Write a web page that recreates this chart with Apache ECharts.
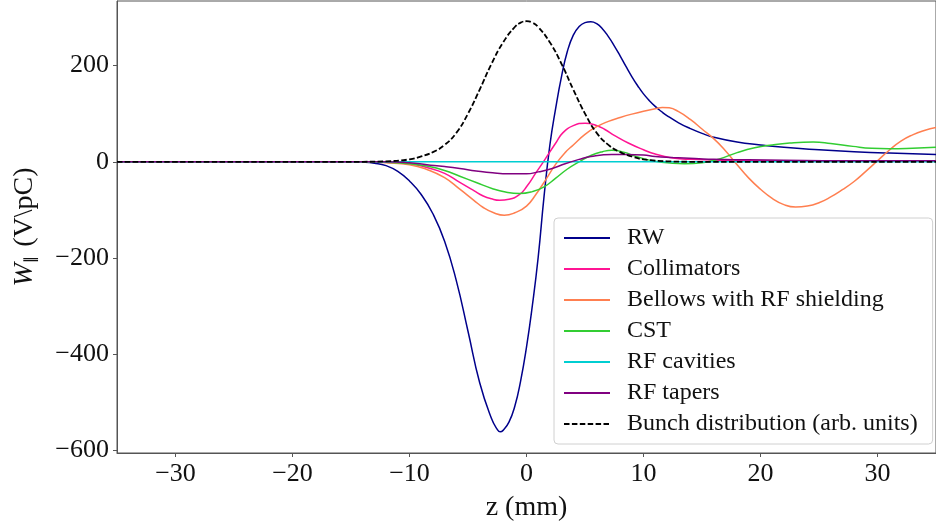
<!DOCTYPE html>
<html>
<head>
<meta charset="utf-8">
<script src="https://cdn.jsdelivr.net/npm/echarts@6/dist/echarts.min.js"></script>
<style>
  html, body { margin: 0; padding: 0; background: #fff; }
  #chart { width: 936px; height: 527px; }
</style>
</head>
<body>
<div id="chart"></div>
<script>
// wake contributions (z in mm, W in V/pC)
const zRW = [-35, -16, -14, -13, -12, -11, -10, -9, -8, -7, -6, -5, -4, -3, -2.5, -2.25, -2, -1.5, -1, -0.5, 0, 0.5, 1, 1.5, 2, 2.5, 3, 3.5, 4, 4.5, 5, 5.5, 6, 6.5, 7, 7.5, 8, 8.5, 9, 9.5, 10, 10.5, 11, 11.5, 12, 13, 14, 15, 16, 18, 20, 22, 25, 28, 31, 35]
const wRW = [0, 0, -1, -3, -8, -20, -40, -68, -108, -165, -247, -352, -459, -533, -556, -561, -558, -541, -508, -455, -385, -299, -198, -72, 35, 112, 178, 230, 263, 281, 289, 291, 287, 276, 260, 241, 220, 198, 177, 158, 141, 127, 115, 105, 96, 81, 69, 59, 51, 41, 35, 30, 25, 21, 18, 15]

const zColl = [-35, -14, -12, -10, -8.5, -7, -5.7, -4.5, -3.7, -3, -2.3, -1.5, -0.6, 0, 0.8, 1.5, 2.5, 3.1, 4, 5, 5.8, 6.7, 7.5, 8.7, 10, 11, 12.5, 14, 17, 22, 35]
const wColl = [0, 0, -1, -4, -12, -24, -43, -60, -71, -77, -80, -78, -68, -52, -23, 2, 39, 60, 75, 80, 77, 67, 55, 39, 25, 16, 8, 5, 3, 2, 2]

const zBellows = [-35, -14, -12, -10, -8.5, -7, -5.7, -4.5, -3.7, -2.8, -1.9, -1, 0, 0.8, 1.65, 2.5, 3.3, 4, 5, 6, 7, 8, 9, 10, 11, 11.6, 12.2, 13, 14, 15, 16, 17, 18, 19, 20, 21, 22, 23, 24, 25, 26, 27, 28, 29, 30, 31, 32, 33, 34, 35]
const wBellows = [0, 0, -2, -6, -16, -33, -57, -80, -95, -106, -111, -106, -92, -68, -37, -5, 19, 35, 57, 73, 84, 92, 99, 105, 110, 113, 112, 104, 88, 68, 48, 23, -6, -34, -57, -76, -89, -94, -92, -85, -73, -58, -41, -20, 2, 24, 43, 56, 65, 71]

const zCST = [-35, -14, -12, -10, -8.5, -7, -5.7, -4.3, -2.9, -1.8, -0.6, 0.5, 1.5, 2.5, 3.5, 4.5, 5.5, 6.5, 7.3, 8.3, 9.5, 11, 12.5, 13.5, 15, 16.5, 18, 19.5, 21, 22.5, 24.5, 26, 27.9, 29.5, 31, 33, 35]
const wCST = [0, 0, -1, -4, -9, -18, -30, -43, -56, -63, -66, -62, -52, -34, -15, 0, 13, 21, 24, 20, 10, 1, -3, -4, -2, 6, 19, 29, 35, 39, 41, 38, 32, 28, 27, 28, 30]

const zCav = [-35, 0, 35]
const wCav = [0, 0, 0]

const zTaper = [-35, -14, -12, -10, -8.5, -7, -5.7, -4.3, -2.9, -1.5, 0, 1, 2.2, 3.3, 4.5, 5.5, 7.3, 8.5, 10, 11, 12.5, 14.4, 16, 19, 22, 27, 35]
const wTaper = [0, 0, 0, -2, -6, -10, -14, -19, -23, -25, -25, -21, -14, -4, 5, 11, 15, 15, 14, 11, 9, 7, 5, 4, 3, 2, 2]

const zBunch = [-35, -14, -12, -10, -9, -8, -7, -6, -5, -4, -3, -2, -1, -0.5, 0, 0.5, 1, 2, 3, 4, 5, 6, 7, 8, 9, 10, 12, 14, 35]
const wBunch = [0, 0, 1, 5, 11, 20, 35, 60, 100, 150, 203, 248, 280, 289, 292, 289, 280, 248, 203, 150, 100, 60, 35, 20, 11, 5, 1, 0, 0]

const xTicks = [-30, -20, -10, 0, 10, 20, 30]
const yTicks = [-600, -400, -200, 0, 200]

const FONT = 'Liberation Serif'
const pair = (zs, ws) => zs.map((z, i) => [z, ws[i]])
const minus = v => String(v).replace('-', '\u2212')

function line(name, zs, ws, color, dashed) {
  return {
    name: name,
    type: 'line',
    data: pair(zs, ws),
    showSymbol: false,
    symbol: 'none',
    smooth: 0.5,
    silent: true,
    lineStyle: {
      color: color,
      width: dashed ? 1.8 : 1.5,
      type: dashed ? [5.5, 2.4] : 'solid'
    },
    itemStyle: { color: color }
  }
}

const chart = echarts.init(document.getElementById('chart'), null, { renderer: 'canvas' })
chart.setOption({
  animation: false,
  backgroundColor: '#fff',
  grid: {
    show: true,
    left: 117,
    right: -7,
    top: 1,
    bottom: 72,
    borderColor: '#555',
    borderWidth: 1
  },
  legend: {
    orient: 'vertical',
    left: 554,
    top: 218,
    padding: [8, 15, 8, 9],
    itemWidth: 46,
    itemHeight: 14,
    itemGap: 7,
    backgroundColor: 'rgba(255,255,255,0.85)',
    borderColor: '#d0d0d0',
    borderWidth: 1,
    borderRadius: 4,
    itemStyle: { opacity: 0 },
    textStyle: {
      fontFamily: FONT,
      fontSize: 24,
      lineHeight: 24,
      color: '#111',
      padding: [0, 0, 0, 12]
    }
  },
  xAxis: {
    type: 'value',
    min: -35,
    max: 35,
    name: 'z (mm)',
    nameLocation: 'middle',
    nameGap: 41,
    nameTextStyle: { fontFamily: FONT, fontSize: 28, color: '#111' },
    axisLine: { show: true, onZero: false, lineStyle: { color: '#555', width: 1 } },
    axisTick: { show: true, length: 4, lineStyle: { color: '#555' }, customValues: xTicks },
    axisLabel: {
      fontFamily: FONT, fontSize: 26, color: '#111', margin: 8,
      customValues: xTicks,
      formatter: minus
    },
    splitLine: { show: false }
  },
  yAxis: {
    type: 'value',
    min: -605,
    max: 334,
    name: '{w|W}{s|\u2225} (V\\pC)',
    nameLocation: 'middle',
    nameRotate: 90,
    nameGap: 78,
    nameTextStyle: {
      fontFamily: FONT, fontSize: 28, color: '#111',
      rich: {
        w: { fontFamily: FONT, fontSize: 28, fontStyle: 'italic', color: '#111' },
        s: { fontFamily: 'DejaVu Sans', fontSize: 15, color: '#111', padding: [14, 2, 0, 0] }
      }
    },
    axisLine: { show: true, onZero: false, lineStyle: { color: '#555', width: 1 } },
    axisTick: { show: true, length: 4, lineStyle: { color: '#555' }, customValues: yTicks },
    axisLabel: {
      fontFamily: FONT, fontSize: 26, color: '#111', margin: 8,
      customValues: yTicks,
      formatter: minus
    },
    splitLine: { show: false }
  },
  series: [
    line('RW', zRW, wRW, '#00008b'),
    line('Collimators', zColl, wColl, '#ff1493'),
    line('Bellows with RF shielding', zBellows, wBellows, '#ff7f50'),
    line('CST', zCST, wCST, '#32cd32'),
    line('RF cavities', zCav, wCav, '#00ced1'),
    line('RF tapers', zTaper, wTaper, '#800080'),
    line('Bunch distribution (arb. units)', zBunch, wBunch, '#000000', true)
  ]
})
</script>
</body>
</html>
